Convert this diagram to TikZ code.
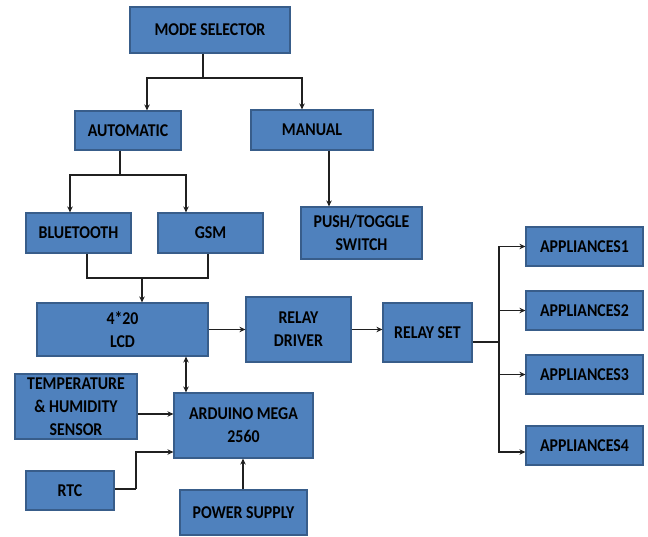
\documentclass[tikz,border=0pt]{standalone}
\usepackage{fontspec}
\setmainfont{Carlito}
\newfontfamily\blkfont[FakeStretch=0.88]{Carlito}
\usetikzlibrary{arrows.meta}
\definecolor{boxfill}{HTML}{4F81BD}
\definecolor{boxline}{HTML}{385D8A}
\definecolor{wire}{HTML}{202020}
\begin{document}
\begin{tikzpicture}[x=1pt,y=-1pt,
  blk/.style={draw=boxline, fill=boxfill, line width=1.2pt, inner sep=0pt, align=center,
    font=\blkfont\fontsize{18}{23}\selectfont\bfseries},
  ln/.style={draw=wire, line width=1.3pt},
  arr/.style={ln, -{Stealth[length=6pt,width=5.5pt]}},
  darr/.style={ln, {Stealth[length=6pt,width=5.5pt]}-{Stealth[length=6pt,width=5.5pt]}}]
\useasboundingbox (0,0) rectangle (648,536);
\fill[white] (0,0) rectangle (648,536);
% boxes
\node[blk, minimum width=160, minimum height=46] (mode) at (210,30) {MODE SELECTOR};
\node[blk, minimum width=106, minimum height=39] (auto) at (128,130.5) {AUTOMATIC};
\node[blk, minimum width=122, minimum height=40] (manual) at (312,130) {MANUAL};
\node[blk, minimum width=105, minimum height=40] (bt) at (78.5,233) {BLUETOOTH};
\node[blk, minimum width=105, minimum height=40] (gsm) at (210.5,233) {GSM};
\node[blk, minimum width=121, minimum height=52] (push) at (361.5,233) {PUSH/TOGGLE\\SWITCH};
\node[blk, minimum width=171, minimum height=53] (lcd) at (122.5,329.5) {4*20\\LCD};
\node[blk, minimum width=105, minimum height=65] (rdrv) at (298.5,329.5) {RELAY\\DRIVER};
\node[blk, minimum width=89, minimum height=59] (rset) at (427.5,332.5) {RELAY SET};
\node[blk, minimum width=117, minimum height=39] (app1) at (584.5,246.5) {APPLIANCES1};
\node[blk, minimum width=117, minimum height=39] (app2) at (584.5,310.5) {APPLIANCES2};
\node[blk, minimum width=117, minimum height=39] (app3) at (584.5,374.5) {APPLIANCES3};
\node[blk, minimum width=117, minimum height=39] (app4) at (584.5,445.5) {APPLIANCES4};
\node[blk, minimum width=122, minimum height=65] (temp) at (76,406.5) {TEMPERATURE\\\& HUMIDITY\\SENSOR};
\node[blk, minimum width=139, minimum height=65] (ard) at (243.5,425.5) {ARDUINO MEGA\\2560};
\node[blk, minimum width=88, minimum height=39] (rtc) at (70,490.5) {RTC};
\node[blk, minimum width=127, minimum height=45] (pwr) at (243.5,512.5) {POWER SUPPLY};
% junction points
\coordinate (j1) at (203,78);
\coordinate (j1a) at (147,78);
\coordinate (j1b) at (302,78);
\coordinate (j2) at (120,175);
\coordinate (j2a) at (70,175);
\coordinate (j2b) at (186,175);
\coordinate (m1) at (329,150);
\coordinate (j3a) at (87,278);
\coordinate (j3b) at (208,278);
\coordinate (j3) at (142,278);
\coordinate (j4) at (499,342);
\coordinate (a4) at (499,452);
\coordinate (k) at (186,375);
\coordinate (t1) at (137,414);
\coordinate (r1) at (136,489);
\coordinate (r2) at (136,452);
\coordinate (p1) at (243,475);
% connectors
\draw[ln] (mode.south -| j1) -- (j1);
\draw[arr] (j1) -- (j1a) -- (auto.north -| j1a);
\draw[arr] (j1) -- (j1b) -- (manual.north -| j1b);
\draw[ln] (auto.south -| j2) -- (j2);
\draw[arr] (j2) -- (j2a) -- (bt.north -| j2a);
\draw[arr] (j2) -- (j2b) -- (gsm.north -| j2b);
\draw[arr] (manual.south -| m1) -- (push.north -| m1);
\draw[ln] (bt.south -| j3a) -- (j3a) -- (j3b) -- (gsm.south -| j3b);
\draw[arr] (j3) -- (lcd.north -| j3);
\draw[arr] (lcd.east) -- (rdrv.west);
\draw[arr] (rdrv.east) -- (rdrv.east -| rset.west);
\draw[ln] (rset.east |- j4) -- (j4);
\draw[arr] (j4) |- (app1.west);
\draw[arr] (j4) |- (app2.west);
\draw[arr] (j4) |- (app3.west);
\draw[arr] (j4) -- (a4) -- (a4 -| app4.west);
\draw[darr] (lcd.south -| k) -- (ard.north -| k);
\draw[arr] (temp.east |- t1) -- (t1 -| ard.west);
\draw[ln, line width=2.6pt] (rtc.east |- r1) -- (r1);
\draw[arr] (r1) -- (r2) -- (r2 -| ard.west);
\draw[arr] (pwr.north -| p1) -- (ard.south -| p1);
\end{tikzpicture}
\end{document}
